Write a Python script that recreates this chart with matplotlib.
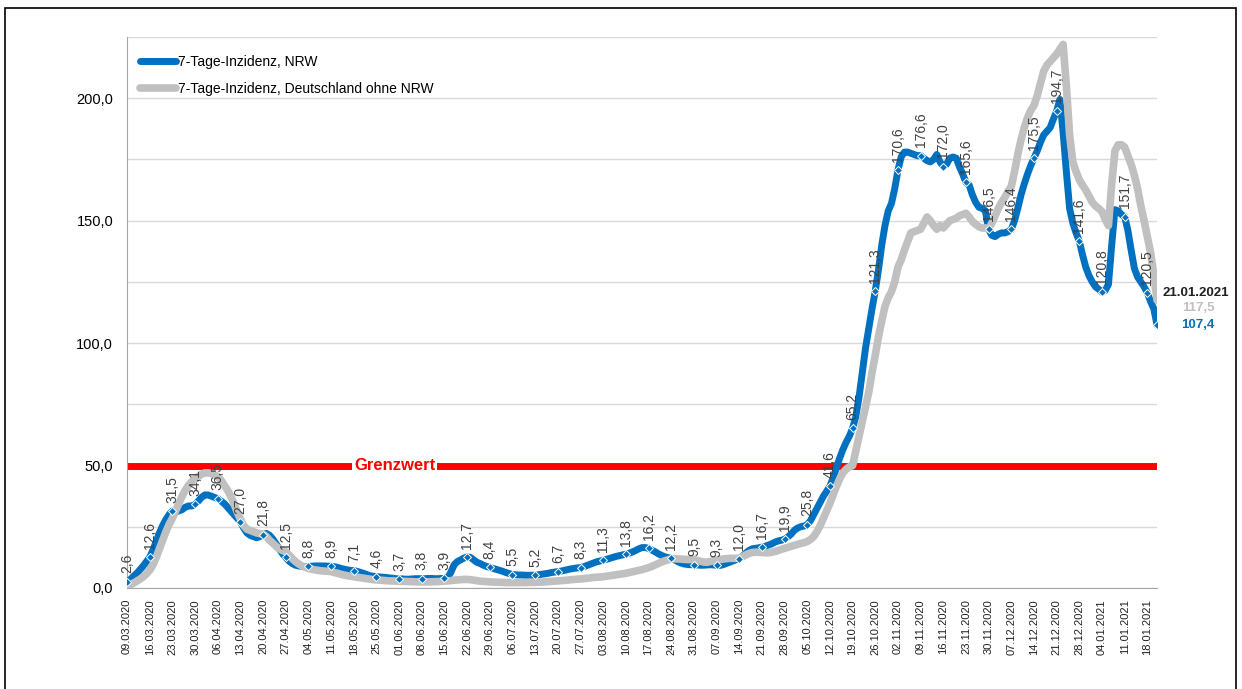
import numpy as np
import pandas as pd
import matplotlib
matplotlib.use("Agg")
import matplotlib.pyplot as plt
from matplotlib.ticker import MultipleLocator, FuncFormatter
from matplotlib.patches import Rectangle

plt.rcParams['font.family'] = ['Liberation Sans', 'DejaVu Sans']

# 7-Tage-Inzidenz, taeglich ab 09.03.2020 (eine Zeile = eine Woche)
start = "2020-03-09"
nrw = [
    2.6, 3.5, 4.8, 6.0, 7.5, 9.0, 10.8,
    12.6, 15.5, 19.0, 22.5, 25.5, 28.0, 30.0,
    31.5, 31.0, 31.5, 32.0, 33.0, 33.5, 33.5,
    34.1, 35.5, 37.0, 38.0, 38.0, 37.5, 37.0,
    36.5, 35.5, 34.5, 33.0, 31.5, 30.0, 28.5,
    27.0, 24.5, 22.5, 21.5, 21.0, 20.5, 21.0,
    21.8, 22.3, 21.5, 20.0, 18.0, 16.0, 14.0,
    12.5, 11.0, 10.0, 9.3, 9.0, 8.8, 8.7,
    8.8, 8.9, 9.0, 9.0, 9.0, 9.0, 8.9,
    8.9, 8.7, 8.4, 8.0, 7.7, 7.4, 7.2,
    7.1, 6.8, 6.4, 6.0, 5.5, 5.0, 4.8,
    4.6, 4.5, 4.4, 4.3, 4.1, 4.0, 3.8,
    3.7, 3.7, 3.6, 3.6, 3.7, 3.8, 3.8,
    3.8, 3.8, 3.9, 3.9, 3.8, 3.8, 3.9,
    3.9, 4.2, 6.5, 9.5, 10.8, 11.5, 12.2,
    12.7, 12.5, 11.5, 10.5, 10.0, 9.3, 8.8,
    8.4, 8.0, 7.6, 7.2, 6.8, 6.3, 5.9,
    5.5, 5.4, 5.3, 5.3, 5.2, 5.2, 5.2,
    5.2, 5.4, 5.6, 5.8, 6.0, 6.3, 6.5,
    6.7, 6.9, 7.2, 7.5, 7.8, 8.0, 8.2,
    8.3, 8.7, 9.2, 9.7, 10.2, 10.7, 11.0,
    11.3, 11.7, 12.1, 12.5, 12.9, 13.2, 13.5,
    13.8, 14.2, 14.7, 15.3, 16.0, 16.5, 16.5,
    16.2, 15.5, 14.8, 14.0, 13.3, 12.8, 12.4,
    12.2, 11.5, 10.8, 10.2, 9.8, 9.6, 9.5,
    9.5, 9.4, 9.3, 9.3, 9.4, 9.5, 9.4,
    9.3, 9.2, 9.5, 10.0, 10.5, 11.0, 11.5,
    12.0, 13.0, 14.2, 15.3, 16.0, 16.2, 16.4,
    16.7, 17.0, 17.5, 18.0, 18.7, 19.2, 19.5,
    19.9, 20.8, 22.0, 23.5, 24.5, 25.0, 25.3,
    25.8, 27.5, 30.0, 32.5, 35.0, 37.5, 39.5,
    41.6, 45.0, 49.0, 53.0, 56.5, 59.5, 62.0,
    65.2, 70.0, 78.0, 88.0, 98.0, 106.0, 114.0,
    121.3, 130.0, 140.0, 148.0, 154.0, 157.0, 163.0,
    170.6, 176.0, 178.0, 178.0, 177.5, 177.0, 176.5,
    176.6, 175.5, 174.5, 174.0, 175.0, 177.0, 174.0,
    172.0, 173.0, 175.5, 176.0, 175.5, 172.0, 169.0,
    165.6, 164.5, 160.5, 157.5, 155.5, 155.0, 154.0,
    146.5, 144.0, 143.5, 144.5, 145.0, 145.0, 145.5,
    146.4, 150.0, 155.0, 160.5, 165.0, 169.0, 172.5,
    175.5, 178.5, 182.0, 185.0, 186.5, 188.0, 191.5,
    194.7, 199.5, 186.0, 170.0, 155.0, 149.0, 145.0,
    141.6, 136.0, 131.0, 127.5, 125.0, 123.0, 122.0,
    120.8, 121.5, 124.0, 140.0, 154.5, 154.0, 152.5,
    151.7, 146.0, 138.0, 130.5, 127.0, 125.0, 123.0,
    120.5, 117.0, 114.0, 107.4,
]
de_ohne_nrw = [
    0.8, 1.3, 2.0, 2.8, 3.6, 4.6, 5.8,
    7.3, 9.5, 12.5, 16.0, 19.5, 23.0, 26.0,
    28.5, 31.5, 34.5, 37.5, 40.0, 42.0, 43.5,
    44.5, 45.5, 46.5, 47.0, 47.0, 46.8, 46.2,
    45.5, 44.0, 42.0, 40.0, 37.5, 34.5, 31.0,
    28.0, 25.5, 24.0, 23.5, 23.0, 22.5, 22.2,
    22.0, 21.0, 19.5, 18.3, 17.0, 16.0, 15.3,
    14.8, 13.5, 12.0, 10.8, 9.8, 9.0, 8.5,
    8.0, 7.7, 7.4, 7.2, 7.0, 6.9, 6.8,
    6.7, 6.3, 6.0, 5.6, 5.3, 5.0, 4.8,
    4.6, 4.4, 4.2, 4.0, 3.8, 3.6, 3.4,
    3.3, 3.2, 3.1, 3.0, 2.9, 2.9, 2.8,
    2.8, 2.7, 2.7, 2.6, 2.6, 2.5, 2.5,
    2.5, 2.5, 2.5, 2.5, 2.6, 2.6, 2.7,
    2.8, 2.9, 3.0, 3.2, 3.3, 3.4, 3.5,
    3.5, 3.4, 3.2, 3.0, 2.8, 2.7, 2.6,
    2.5, 2.4, 2.4, 2.3, 2.3, 2.2, 2.2,
    2.2, 2.2, 2.2, 2.2, 2.2, 2.3, 2.3,
    2.3, 2.4, 2.4, 2.5, 2.6, 2.7, 2.8,
    2.9, 3.0, 3.1, 3.2, 3.4, 3.5, 3.6,
    3.7, 3.8, 4.0, 4.1, 4.3, 4.4, 4.5,
    4.6, 4.8, 5.0, 5.2, 5.4, 5.6, 5.8,
    6.0, 6.3, 6.6, 6.9, 7.2, 7.5, 7.9,
    8.3, 8.8, 9.4, 10.0, 10.6, 11.1, 11.5,
    11.8, 11.9, 11.9, 11.8, 11.7, 11.6, 11.6,
    11.6, 11.3, 10.9, 10.6, 10.5, 10.8, 11.1,
    11.4, 11.6, 11.8, 12.0, 12.1, 12.1, 12.1,
    12.2, 12.8, 13.5, 14.1, 14.5, 14.6, 14.6,
    14.5, 14.4, 14.4, 14.6, 14.9, 15.3, 15.8,
    16.2, 16.6, 17.0, 17.4, 17.8, 18.2, 18.5,
    19.0, 19.8, 21.0, 23.0, 25.5, 28.5, 31.5,
    34.6, 38.0, 41.5, 44.5, 47.0, 48.5, 49.5,
    50.0, 56.0, 62.0, 68.0, 74.0, 80.0, 88.0,
    95.0, 102.7, 109.0, 115.0, 118.5, 121.0, 125.0,
    131.0, 134.0, 138.0, 141.5, 145.0, 145.5, 146.0,
    146.5, 149.0, 151.5, 150.0, 148.0, 146.5, 148.0,
    147.0, 148.5, 150.0, 150.5, 151.0, 152.0, 152.5,
    153.0, 151.5, 149.7, 148.5, 147.5, 147.0, 147.0,
    146.6, 149.0, 152.0, 155.0, 157.5, 159.5, 162.0,
    164.0, 170.0, 177.0, 183.0, 188.0, 192.0, 195.0,
    197.0, 201.0, 206.0, 211.0, 213.5, 215.0, 216.5,
    218.0, 220.0, 222.0, 205.0, 185.0, 174.0, 170.0,
    166.7, 164.5, 162.5, 160.0, 157.5, 156.0, 155.0,
    153.7, 150.5, 148.0, 165.0, 178.5, 181.0, 181.0,
    180.0, 176.5, 173.0, 168.5, 163.0, 156.0, 150.0,
    143.5, 137.0, 128.0, 117.5,
]
grenzwert = 50.0
label_nrw = "7-Tage-Inzidenz, NRW"
label_de = "7-Tage-Inzidenz, Deutschland ohne NRW"

BLUE = "#0070C0"
GREY = "#C0C0C0"


def de_num(v, pos=None):
    return f"{v:.1f}".replace(".", ",")


days = pd.date_range(start, periods=len(nrw), freq="D")
nrw = np.array(nrw)
de_ohne_nrw = np.array(de_ohne_nrw)

fig = plt.figure(figsize=(12.42, 6.89), dpi=100)
ax = fig.add_axes([0.1023, 0.1466, 0.8293, 0.7997])

ax.plot(days, nrw, color=BLUE, lw=5, solid_capstyle="round",
        solid_joinstyle="round", label=label_nrw, zorder=3)
ax.plot(days, de_ohne_nrw, color=GREY, lw=5.5, solid_capstyle="round",
        solid_joinstyle="round", label=label_de, zorder=3)
ax.axhline(grenzwert, color="#FF0000", lw=5, zorder=2)
ax.text(0.26, grenzwert, "Grenzwert", transform=ax.get_yaxis_transform(),
        ha="center", va="center", color="#FF0000", fontsize=12,
        fontweight="bold", zorder=4,
        bbox=dict(facecolor="white", edgecolor="none", pad=1.5))

# Wochenmarker + Beschriftung
idx = list(range(0, len(nrw), 7))
ax.plot(days[idx + [len(nrw) - 1]], nrw[idx + [len(nrw) - 1]], ls="none",
        marker="D", ms=4.5, mfc=BLUE, mec="white", mew=0.7, zorder=5)
for i in idx:
    ax.annotate(de_num(nrw[i]), (days[i], nrw[i]), xytext=(0, 6),
                textcoords="offset points", rotation=90, ha="center",
                va="bottom", fontsize=10, color="#404040", zorder=6)

ax.set_xlim(days[0], days[-1])
ax.set_ylim(0, 225)
ax.yaxis.set_major_locator(MultipleLocator(50))
ax.yaxis.set_minor_locator(MultipleLocator(25))
ax.yaxis.set_major_formatter(FuncFormatter(de_num))
ax.grid(which="both", axis="y", color="#D9D9D9", lw=1, zorder=0)
ax.set_axisbelow(True)

ticks = pd.date_range(start, days[-1], freq="7D")
ax.set_xticks(ticks)
ax.set_xticklabels([t.strftime("%d.%m.%Y") for t in ticks], rotation=90,
                   fontsize=8, color="#202020")
ax.tick_params(axis="both", which="both", length=0)
ax.tick_params(axis="y", labelsize=10.5, pad=10)
ax.tick_params(axis="x", pad=8)

for s in ["top", "right"]:
    ax.spines[s].set_visible(False)
ax.spines["left"].set_color("#A6A6A6")
ax.spines["bottom"].set_color("#A6A6A6")

ax.legend(loc="upper left", bbox_to_anchor=(0.0, 0.99), frameon=False,
          fontsize=10, handlelength=2.6, labelspacing=0.9, handletextpad=0.2)

fig.text(1196 / 1242, 1 - 293 / 689, days[-1].strftime("%d.%m.%Y"),
         ha="center", va="center", fontsize=9.5, fontweight="bold",
         color="#202020")
fig.text(1198 / 1242, 1 - 308 / 689, de_num(de_ohne_nrw[-1]), ha="center",
         va="center", fontsize=9.5, fontweight="bold", color=GREY)
fig.text(1198 / 1242, 1 - 325 / 689, de_num(nrw[-1]), ha="center",
         va="center", fontsize=9.5, fontweight="bold", color=BLUE)

fig.add_artist(Rectangle((5 / 1242, -0.02), 1231 / 1242, 1.02 - 8 / 689,
                         transform=fig.transFigure, fill=False,
                         edgecolor="black", lw=1.2))

fig.savefig("out.png", dpi=100)
